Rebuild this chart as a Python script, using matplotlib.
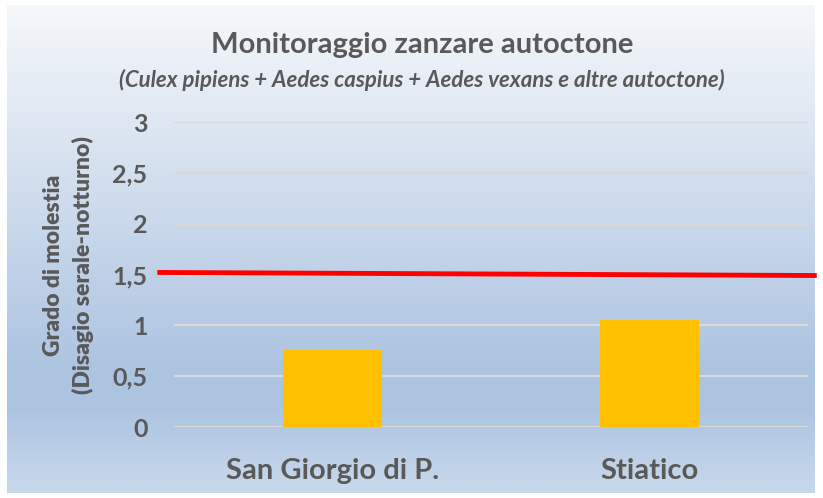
import matplotlib.pyplot as plt
import numpy as np
from matplotlib.colors import LinearSegmentedColormap

# dati
categorie = ["San Giorgio di P.", "Stiatico"]
molestia = [0.76, 1.05]
soglia = [1.52, 1.49]  # linea rossa, estremo sinistro e destro
yticks = [0, 0.5, 1, 1.5, 2, 2.5, 3]
ytick_labels = ["0", "0,5", "1", "1,5", "2", "2,5", "3"]

plt.rcParams['font.family'] = ['Lato', 'DejaVu Sans']
grigio = '#595959'

W, H = 823, 498
fig = plt.figure(figsize=(W / 100, H / 100), dpi=100)

# sfondo a gradiente del pannello
bg = fig.add_axes([7 / W, 1 - 493 / H, 808 / W, 488 / H])
cmap = LinearSegmentedColormap.from_list(
    'grad', [(0, '#f6f8fb'), (0.74, '#adc4e1'), (0.83, '#adc4e1'), (1, '#c9d9ec')])
bg.imshow(np.linspace(0, 1, 256).reshape(-1, 1), aspect='auto', cmap=cmap,
          extent=[0, 1, 0, 1], origin='upper')
bg.axis('off')

ax = fig.add_axes([174 / W, 1 - 427 / H, (808 - 174) / W, (427 - 122) / H])
ax.patch.set_alpha(0)
x = np.arange(len(categorie))
ax.bar(x, molestia, width=0.31, color='#ffc000', zorder=3)
ax.set_xlim(-0.5, 1.5)
ax.set_ylim(0, 3)
ax.set_yticks(yticks)
ax.set_yticklabels(ytick_labels)
ax.set_xticks(x)
ax.set_xticklabels(categorie)
ax.grid(axis='y', color='#d9d9d9', linewidth=1.5, zorder=0)
for s in ax.spines.values():
    s.set_visible(False)
ax.tick_params(length=0)
ax.tick_params(axis='y', pad=19, labelsize=18, labelcolor=grigio)
ax.tick_params(axis='x', pad=22, labelsize=21, labelcolor=grigio)
for t in ax.get_xticklabels() + ax.get_yticklabels():
    t.set_fontweight('bold')

# linea di soglia
ax.plot([-0.545, 1.52], soglia, color='#ff0000', linewidth=3.5, clip_on=False, zorder=4)

ax.set_ylabel("Grado di molestia\n(Disagio serale-notturno)", fontsize=16.5,
              color=grigio, linespacing=1.45)
ax.yaxis.label.set_fontweight('heavy')
ax.yaxis.set_label_coords(-0.126, 0.53)

fig.text(422 / W, 1 - 45 / H, "Monitoraggio zanzare autoctone", ha='center',
         va='center', fontsize=21, fontweight='bold', color=grigio)
fig.text(422 / W, 1 - 80 / H,
         "(Culex pipiens + Aedes caspius + Aedes vexans e altre autoctone)",
         ha='center', va='center', fontsize=16, fontweight='bold',
         style='italic', color=grigio)

plt.savefig('out.png', dpi=100)
